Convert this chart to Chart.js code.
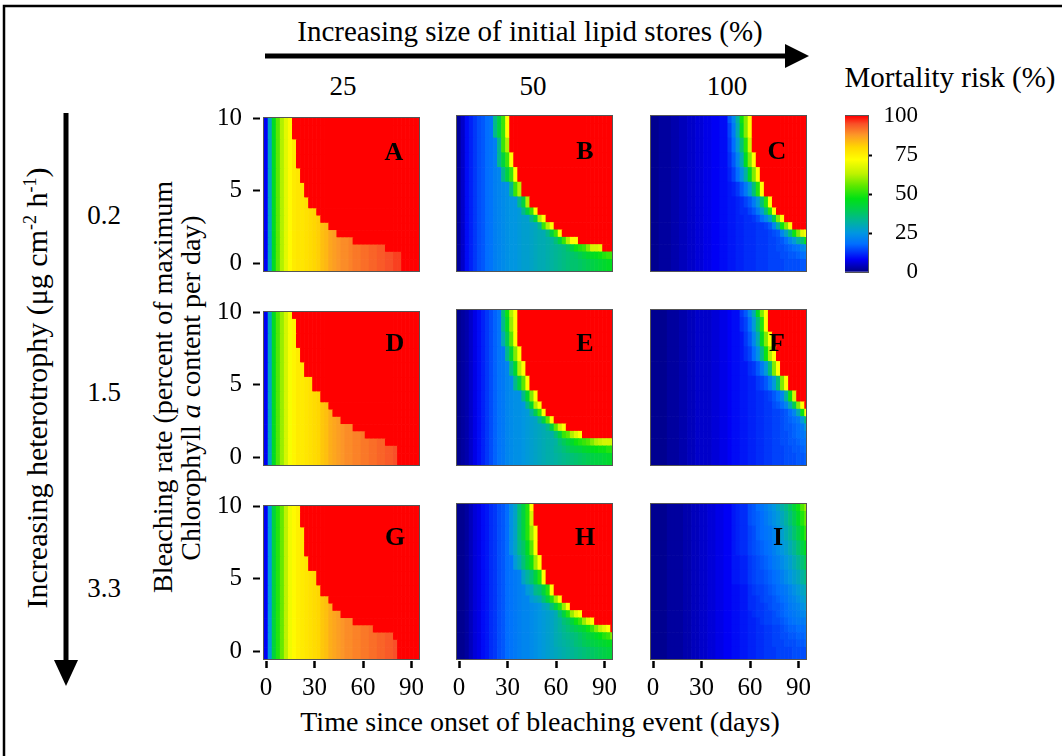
<!DOCTYPE html>
<html><head><meta charset="utf-8">
<script src="https://cdn.jsdelivr.net/npm/chart.js@4.4.1/dist/chart.umd.min.js"></script>
<style>
html,body{margin:0;padding:0;background:#fff;}
#wrap{position:relative;width:1062px;height:756px;overflow:hidden;font-family:"Liberation Serif","Times New Roman",serif;color:#000;background:#fff;}
canvas{position:absolute;}
.t{position:absolute;white-space:nowrap;line-height:1;transform:translate(-50%,-50%);}
.v{position:absolute;white-space:nowrap;line-height:1;transform:translate(-50%,-50%) rotate(-90deg);}
.lt{position:absolute;font-weight:bold;font-size:26px;line-height:1;transform:translate(-50%,-50%);}
sup{font-size:60%;vertical-align:0.6em;line-height:0;}
svg{position:absolute;left:0;top:0;}
</style></head><body><div id="wrap">
<svg width="1062" height="756">
  <path d="M4,760 L4,6 L1066,6" fill="none" stroke="#000" stroke-width="2.5"/>
  <line x1="265" y1="56" x2="788" y2="56" stroke="#000" stroke-width="5"/>
  <polygon points="785,44 809,56 785,68" fill="#000"/>
  <line x1="66" y1="113" x2="66" y2="664" stroke="#000" stroke-width="5"/>
  <polygon points="54,660 66,686 78,660" fill="#000"/>
</svg>
<div class="t" style="left:530px;top:31px;font-size:29px;">Increasing size of initial lipid stores (%)</div>
<div class="t" id="lip0" style="left:343px;top:86px;font-size:27px;"></div>
<div class="t" id="lip1" style="left:533px;top:86px;font-size:27px;"></div>
<div class="t" id="lip2" style="left:727px;top:86px;font-size:27px;"></div>
<div class="t" style="left:950px;top:77px;font-size:29px;">Mortality risk (%)</div>
<div class="v" style="left:37px;top:388px;font-size:30px;">Increasing heterotrophy (μg cm<sup>-2</sup> h<sup>-1</sup>)</div>
<div class="t" id="het0" style="left:104px;top:215px;font-size:27px;"></div>
<div class="t" id="het1" style="left:104px;top:392px;font-size:27px;"></div>
<div class="t" id="het2" style="left:104px;top:588px;font-size:27px;"></div>
<div class="v" style="left:163px;top:387px;font-size:28px;">Bleaching rate (percent of maximum</div>
<div class="v" style="left:191px;top:388px;font-size:28px;">Chlorophyll <i>a</i> content per day)</div>
<div class="t" style="left:540px;top:722px;font-size:28px;">Time since onset of bleaching event (days)</div>
</div>
<script>
// ---------- data ----------
const timeDays = [0,2.5,5,7.5,10,12.5,15,17.5,20,22.5,25,27.5,30,32.5,35,37.5,40,42.5,45,47.5,50,52.5,55,57.5,60,62.5,65,67.5,70,72.5,75,77.5,80,82.5,85,87.5,90,92.5,95];
// bleaching-rate rows: 0,0.5,1,1.5,2,2.5,3,3.5,4,5,6,7,8,9,10 (cell edges)
const rateEdges = [-0.6,0.25,0.75,1.25,1.75,2.25,2.75,3.25,3.75,4.5,5.5,6.5,7.5,8.5,9.5,10.5];
const timeTicks = [0,30,60,90];
const rateTicks = [0,5,10];
const riskTicks = [0,25,50,75,100];
const riskRange = [0,100];
const lipidLevels = ['25','50','100'];
const heteroLevels = ['0.2','1.5','3.3'];
const panelLetters = ['A','B','C','D','E','F','G','H','I'];

// mortality risk (%) per cell: rows bottom (rate 0) to top (rate 10), columns = timeDays
const riskA = [
 [8,28,45,55,62,68,73,76,77,77,78,79,80,81,83,84,86,87,88,89,89,90,91,91,92,92,93,93,94,94,95,95,96,96,100,100,100,100,100],
 [8,28,45,55,62,68,73,76,77,77,78,79,80,81,83,84,86,87,88,89,89,90,91,91,92,92,93,93,94,94,95,95,96,96,100,100,100,100,100],
 [8,28,45,55,62,68,73,76,77,77,78,79,80,81,83,84,86,87,88,89,89,90,91,91,92,92,93,93,94,94,100,100,100,100,100,100,100,100,100],
 [8,28,45,55,62,68,73,76,77,77,78,79,80,81,83,84,86,87,88,89,89,90,100,100,100,100,100,100,100,100,100,100,100,100,100,100,100,100,100],
 [8,28,45,55,62,68,73,76,77,77,78,79,80,81,83,84,86,87,100,100,100,100,100,100,100,100,100,100,100,100,100,100,100,100,100,100,100,100,100],
 [8,28,45,55,62,68,73,76,77,77,78,79,80,81,83,84,100,100,100,100,100,100,100,100,100,100,100,100,100,100,100,100,100,100,100,100,100,100,100],
 [8,28,45,55,62,68,73,76,77,77,78,79,80,81,100,100,100,100,100,100,100,100,100,100,100,100,100,100,100,100,100,100,100,100,100,100,100,100,100],
 [8,28,45,55,62,68,73,76,77,77,78,79,80,100,100,100,100,100,100,100,100,100,100,100,100,100,100,100,100,100,100,100,100,100,100,100,100,100,100],
 [8,28,45,55,62,68,73,76,77,77,78,100,100,100,100,100,100,100,100,100,100,100,100,100,100,100,100,100,100,100,100,100,100,100,100,100,100,100,100],
 [8,28,45,55,62,68,73,76,77,77,100,100,100,100,100,100,100,100,100,100,100,100,100,100,100,100,100,100,100,100,100,100,100,100,100,100,100,100,100],
 [8,28,45,55,62,68,73,76,77,100,100,100,100,100,100,100,100,100,100,100,100,100,100,100,100,100,100,100,100,100,100,100,100,100,100,100,100,100,100],
 [8,28,45,55,62,68,73,76,100,100,100,100,100,100,100,100,100,100,100,100,100,100,100,100,100,100,100,100,100,100,100,100,100,100,100,100,100,100,100],
 [8,28,45,55,62,68,73,76,100,100,100,100,100,100,100,100,100,100,100,100,100,100,100,100,100,100,100,100,100,100,100,100,100,100,100,100,100,100,100],
 [8,28,45,55,62,68,73,100,100,100,100,100,100,100,100,100,100,100,100,100,100,100,100,100,100,100,100,100,100,100,100,100,100,100,100,100,100,100,100],
 [8,28,45,55,62,68,73,100,100,100,100,100,100,100,100,100,100,100,100,100,100,100,100,100,100,100,100,100,100,100,100,100,100,100,100,100,100,100,100]
];
const riskB = [
 [2,5,9,11,13,15,16,18,19,21,22,23,24,25,25,26,27,27,28,29,30,30,31,32,33,34,35,36,37,37,38,39,40,41,42,43,44,45,46],
 [2,5,9,11,13,15,16,18,19,21,22,23,24,25,25,26,27,27,28,29,30,30,31,32,33,34,35,36,37,38,40,42,44,45,46,48,50,52,52],
 [2,5,9,11,13,15,16,18,19,21,22,23,24,25,25,26,27,27,28,29,30,30,31,32,33,34,35,38,42,48,50,52,58,66,66,68,100,100,100],
 [2,5,9,11,13,15,16,18,19,21,22,23,24,25,25,26,27,27,28,29,30,30,31,32,36,42,52,62,72,72,100,100,100,100,100,100,100,100,100],
 [2,5,9,11,13,15,16,18,19,21,22,23,24,25,25,26,27,27,28,29,30,30,34,42,52,72,100,100,100,100,100,100,100,100,100,100,100,100,100],
 [2,5,9,11,13,15,16,18,19,21,22,23,24,25,25,26,27,27,28,29,34,52,62,72,100,100,100,100,100,100,100,100,100,100,100,100,100,100,100],
 [2,5,9,11,13,15,16,18,19,21,22,23,24,25,25,26,27,27,34,42,62,72,100,100,100,100,100,100,100,100,100,100,100,100,100,100,100,100,100],
 [2,5,9,11,13,15,16,18,19,21,22,23,24,25,25,26,34,42,52,72,100,100,100,100,100,100,100,100,100,100,100,100,100,100,100,100,100,100,100],
 [2,5,9,11,13,15,16,18,19,21,22,23,24,25,25,34,42,62,100,100,100,100,100,100,100,100,100,100,100,100,100,100,100,100,100,100,100,100,100],
 [2,5,9,11,13,15,16,18,19,21,22,23,24,34,52,62,100,100,100,100,100,100,100,100,100,100,100,100,100,100,100,100,100,100,100,100,100,100,100],
 [2,5,9,11,13,15,16,18,19,21,22,34,42,52,72,100,100,100,100,100,100,100,100,100,100,100,100,100,100,100,100,100,100,100,100,100,100,100,100],
 [2,5,9,11,13,15,16,18,19,21,34,42,52,72,100,100,100,100,100,100,100,100,100,100,100,100,100,100,100,100,100,100,100,100,100,100,100,100,100],
 [2,5,9,11,13,15,16,18,19,21,34,52,62,100,100,100,100,100,100,100,100,100,100,100,100,100,100,100,100,100,100,100,100,100,100,100,100,100,100],
 [2,5,9,11,13,15,16,18,19,34,42,52,72,100,100,100,100,100,100,100,100,100,100,100,100,100,100,100,100,100,100,100,100,100,100,100,100,100,100],
 [2,5,9,11,13,15,16,18,19,34,42,52,72,100,100,100,100,100,100,100,100,100,100,100,100,100,100,100,100,100,100,100,100,100,100,100,100,100,100]
];
const riskC = [
 [1,1,2,2,2,3,3,4,4,5,5,6,6,7,7,8,8,9,9,10,10,11,11,12,12,12,13,13,13,14,14,14,14,15,15,15,15,16,16],
 [1,1,2,2,2,3,3,4,4,5,5,6,6,7,7,8,8,9,9,10,10,11,11,12,12,12,13,13,13,14,14,14,15,15,16,16,17,18,19],
 [1,1,2,2,2,3,3,4,4,5,5,6,6,7,7,8,8,9,9,10,10,11,11,12,12,12,13,13,13,14,14,15,15,16,17,18,19,22,24],
 [1,1,2,2,2,3,3,4,4,5,5,6,6,7,7,8,8,9,9,10,10,11,11,12,12,12,13,13,13,14,14,15,16,18,22,26,32,36,48],
 [1,1,2,2,2,3,3,4,4,5,5,6,6,7,7,8,8,9,9,10,10,11,11,12,12,12,13,13,13,14,15,16,22,28,36,48,58,68,72],
 [1,1,2,2,2,3,3,4,4,5,5,6,6,7,7,8,8,9,9,10,10,11,11,12,12,12,13,13,14,16,22,32,48,58,72,100,100,100,100],
 [1,1,2,2,2,3,3,4,4,5,5,6,6,7,7,8,8,9,9,10,10,11,11,12,12,13,15,18,22,28,40,58,72,100,100,100,100,100,100],
 [1,1,2,2,2,3,3,4,4,5,5,6,6,7,7,8,8,9,9,10,10,11,12,12,14,16,20,26,36,50,72,100,100,100,100,100,100,100,100],
 [1,1,2,2,2,3,3,4,4,5,5,6,6,7,7,8,8,9,9,10,10,11,12,14,16,20,26,36,50,72,100,100,100,100,100,100,100,100,100],
 [1,1,2,2,2,3,3,4,4,5,5,6,6,7,7,8,8,9,9,10,11,13,16,20,26,36,50,72,100,100,100,100,100,100,100,100,100,100,100],
 [1,1,2,2,2,3,3,4,4,5,5,6,6,7,7,8,8,9,9,11,14,18,24,32,45,58,72,100,100,100,100,100,100,100,100,100,100,100,100],
 [1,1,2,2,2,3,3,4,4,5,5,6,6,7,7,8,8,9,9,12,16,22,30,45,58,72,100,100,100,100,100,100,100,100,100,100,100,100,100],
 [1,1,2,2,2,3,3,4,4,5,5,6,6,7,7,8,8,9,9,13,18,26,36,50,66,100,100,100,100,100,100,100,100,100,100,100,100,100,100],
 [1,1,2,2,2,3,3,4,4,5,5,6,6,7,7,8,8,9,9,14,20,30,45,58,72,100,100,100,100,100,100,100,100,100,100,100,100,100,100],
 [1,1,2,2,2,3,3,4,4,5,5,6,6,7,7,8,8,9,9,16,22,32,48,58,72,100,100,100,100,100,100,100,100,100,100,100,100,100,100]
];
const riskD = [
 [8,28,45,54,60,66,71,74,76,76,77,78,79,80,82,83,85,86,87,88,89,89,90,90,91,91,92,92,93,93,94,94,95,100,100,100,100,100,100],
 [8,28,45,54,60,66,71,74,76,76,77,78,79,80,82,83,85,86,87,88,89,89,90,90,91,91,92,92,93,93,94,94,95,100,100,100,100,100,100],
 [8,28,45,54,60,66,71,74,76,76,77,78,79,80,82,83,85,86,87,88,89,89,90,90,91,91,92,92,93,93,100,100,100,100,100,100,100,100,100],
 [8,28,45,54,60,66,71,74,76,76,77,78,79,80,82,83,85,86,87,88,89,89,90,90,91,100,100,100,100,100,100,100,100,100,100,100,100,100,100],
 [8,28,45,54,60,66,71,74,76,76,77,78,79,80,82,83,85,86,87,88,89,89,100,100,100,100,100,100,100,100,100,100,100,100,100,100,100,100,100],
 [8,28,45,54,60,66,71,74,76,76,77,78,79,80,82,83,85,86,87,100,100,100,100,100,100,100,100,100,100,100,100,100,100,100,100,100,100,100,100],
 [8,28,45,54,60,66,71,74,76,76,77,78,79,80,82,83,85,100,100,100,100,100,100,100,100,100,100,100,100,100,100,100,100,100,100,100,100,100,100],
 [8,28,45,54,60,66,71,74,76,76,77,78,79,80,82,83,100,100,100,100,100,100,100,100,100,100,100,100,100,100,100,100,100,100,100,100,100,100,100],
 [8,28,45,54,60,66,71,74,76,76,77,78,79,80,100,100,100,100,100,100,100,100,100,100,100,100,100,100,100,100,100,100,100,100,100,100,100,100,100],
 [8,28,45,54,60,66,71,74,76,76,77,78,100,100,100,100,100,100,100,100,100,100,100,100,100,100,100,100,100,100,100,100,100,100,100,100,100,100,100],
 [8,28,45,54,60,66,71,74,76,76,100,100,100,100,100,100,100,100,100,100,100,100,100,100,100,100,100,100,100,100,100,100,100,100,100,100,100,100,100],
 [8,28,45,54,60,66,71,74,76,100,100,100,100,100,100,100,100,100,100,100,100,100,100,100,100,100,100,100,100,100,100,100,100,100,100,100,100,100,100],
 [8,28,45,54,60,66,71,74,100,100,100,100,100,100,100,100,100,100,100,100,100,100,100,100,100,100,100,100,100,100,100,100,100,100,100,100,100,100,100],
 [8,28,45,54,60,66,71,74,100,100,100,100,100,100,100,100,100,100,100,100,100,100,100,100,100,100,100,100,100,100,100,100,100,100,100,100,100,100,100],
 [8,28,45,54,60,66,71,100,100,100,100,100,100,100,100,100,100,100,100,100,100,100,100,100,100,100,100,100,100,100,100,100,100,100,100,100,100,100,100]
];
const riskE = [
 [1,2,3,5,7,9,11,13,15,17,19,20,22,23,24,24,25,26,27,28,29,30,31,31,32,33,34,35,36,37,38,39,40,41,42,42,43,44,45],
 [1,2,3,5,7,9,11,13,15,17,19,20,22,23,24,24,25,26,27,28,29,30,31,31,33,34,36,38,40,41,42,44,45,46,47,48,48,50,50],
 [1,2,3,5,7,9,11,13,15,17,19,20,22,23,24,24,25,26,27,28,29,30,31,31,32,36,39,42,44,48,50,52,54,58,62,64,66,66,66],
 [1,2,3,5,7,9,11,13,15,17,19,20,22,23,24,24,25,26,27,28,29,30,31,31,36,42,52,55,62,68,72,100,100,100,100,100,100,100,100],
 [1,2,3,5,7,9,11,13,15,17,19,20,22,23,24,24,25,26,27,28,29,30,34,42,55,66,72,100,100,100,100,100,100,100,100,100,100,100,100],
 [1,2,3,5,7,9,11,13,15,17,19,20,22,23,24,24,25,26,27,28,34,42,55,72,100,100,100,100,100,100,100,100,100,100,100,100,100,100,100],
 [1,2,3,5,7,9,11,13,15,17,19,20,22,23,24,24,25,26,32,40,52,72,100,100,100,100,100,100,100,100,100,100,100,100,100,100,100,100,100],
 [1,2,3,5,7,9,11,13,15,17,19,20,22,23,24,24,25,34,44,62,72,100,100,100,100,100,100,100,100,100,100,100,100,100,100,100,100,100,100],
 [1,2,3,5,7,9,11,13,15,17,19,20,22,23,24,24,34,44,58,72,100,100,100,100,100,100,100,100,100,100,100,100,100,100,100,100,100,100,100],
 [1,2,3,5,7,9,11,13,15,17,19,20,22,23,34,42,55,72,100,100,100,100,100,100,100,100,100,100,100,100,100,100,100,100,100,100,100,100,100],
 [1,2,3,5,7,9,11,13,15,17,19,20,22,34,44,62,72,100,100,100,100,100,100,100,100,100,100,100,100,100,100,100,100,100,100,100,100,100,100],
 [1,2,3,5,7,9,11,13,15,17,19,20,34,44,58,72,100,100,100,100,100,100,100,100,100,100,100,100,100,100,100,100,100,100,100,100,100,100,100],
 [1,2,3,5,7,9,11,13,15,17,19,30,40,55,72,100,100,100,100,100,100,100,100,100,100,100,100,100,100,100,100,100,100,100,100,100,100,100,100],
 [1,2,3,5,7,9,11,13,15,17,19,34,45,60,72,100,100,100,100,100,100,100,100,100,100,100,100,100,100,100,100,100,100,100,100,100,100,100,100],
 [1,2,3,5,7,9,11,13,15,17,19,36,48,62,72,100,100,100,100,100,100,100,100,100,100,100,100,100,100,100,100,100,100,100,100,100,100,100,100]
];
const riskF = [
 [1,1,1,1,2,2,2,3,3,4,4,5,5,5,5,6,6,7,7,8,9,9,10,10,11,11,12,12,13,13,14,14,14,15,15,15,16,16,17],
 [1,1,1,1,2,2,2,3,3,4,4,5,5,5,5,6,6,7,7,8,9,9,10,10,11,11,12,12,13,13,14,14,14,15,15,16,16,17,18],
 [1,1,1,1,2,2,2,3,3,4,4,5,5,5,5,6,6,7,7,8,9,9,10,10,11,11,12,12,13,13,14,14,15,15,16,16,17,18,19],
 [1,1,1,1,2,2,2,3,3,4,4,5,5,5,5,6,6,7,7,8,9,9,10,10,11,11,12,12,13,13,14,14,15,15,16,17,18,19,21],
 [1,1,1,1,2,2,2,3,3,4,4,5,5,5,5,6,6,7,7,8,9,9,10,10,11,11,12,12,13,13,14,14,15,16,16,17,18,20,26],
 [1,1,1,1,2,2,2,3,3,4,4,5,5,5,5,6,6,7,7,8,9,9,10,10,11,11,12,12,13,13,14,14,15,16,17,18,20,26,36],
 [1,1,1,1,2,2,2,3,3,4,4,5,5,5,5,6,6,7,7,8,9,9,10,10,11,11,12,12,13,13,14,14,15,16,18,22,30,48,72],
 [1,1,1,1,2,2,2,3,3,4,4,5,5,5,5,6,6,7,7,8,9,9,10,10,11,11,12,12,13,13,15,16,18,22,30,40,58,72,100],
 [1,1,1,1,2,2,2,3,3,4,4,5,5,5,5,6,6,7,7,8,9,9,10,10,11,11,12,12,13,14,16,18,22,32,48,66,100,100,100],
 [1,1,1,1,2,2,2,3,3,4,4,5,5,5,5,6,6,7,7,8,9,9,10,10,11,11,13,14,16,20,26,36,58,72,100,100,100,100,100],
 [1,1,1,1,2,2,2,3,3,4,4,5,5,5,5,6,6,7,7,8,9,9,10,10,12,13,16,20,26,36,58,72,100,100,100,100,100,100,100],
 [1,1,1,1,2,2,2,3,3,4,4,5,5,5,5,6,6,7,7,8,9,9,10,12,14,18,24,34,48,62,72,100,100,100,100,100,100,100,100],
 [1,1,1,1,2,2,2,3,3,4,4,5,5,5,5,6,6,7,7,8,9,9,10,13,16,22,30,45,58,72,100,100,100,100,100,100,100,100,100],
 [1,1,1,1,2,2,2,3,3,4,4,5,5,5,5,6,6,7,7,8,9,9,12,14,18,26,36,50,72,100,100,100,100,100,100,100,100,100,100],
 [1,1,1,1,2,2,2,3,3,4,4,5,5,5,5,6,6,7,7,8,9,9,13,16,22,30,45,58,72,100,100,100,100,100,100,100,100,100,100]
];
const riskG = [
 [8,25,42,50,56,63,70,73,75,76,77,78,79,80,82,83,85,86,87,88,89,89,90,90,91,91,92,92,93,93,94,94,95,100,100,100,100,100,100],
 [8,25,42,50,56,63,70,73,75,76,77,78,79,80,82,83,85,86,87,88,89,89,90,90,91,91,92,92,93,93,94,94,95,100,100,100,100,100,100],
 [8,25,42,50,56,63,70,73,75,76,77,78,79,80,82,83,85,86,87,88,89,89,90,90,91,91,92,92,93,93,94,94,100,100,100,100,100,100,100],
 [8,25,42,50,56,63,70,73,75,76,77,78,79,80,82,83,85,86,87,88,89,89,90,90,91,91,92,100,100,100,100,100,100,100,100,100,100,100,100],
 [8,25,42,50,56,63,70,73,75,76,77,78,79,80,82,83,85,86,87,88,89,89,100,100,100,100,100,100,100,100,100,100,100,100,100,100,100,100,100],
 [8,25,42,50,56,63,70,73,75,76,77,78,79,80,82,83,85,86,87,100,100,100,100,100,100,100,100,100,100,100,100,100,100,100,100,100,100,100,100],
 [8,25,42,50,56,63,70,73,75,76,77,78,79,80,82,83,85,100,100,100,100,100,100,100,100,100,100,100,100,100,100,100,100,100,100,100,100,100,100],
 [8,25,42,50,56,63,70,73,75,76,77,78,79,80,82,83,100,100,100,100,100,100,100,100,100,100,100,100,100,100,100,100,100,100,100,100,100,100,100],
 [8,25,42,50,56,63,70,73,75,76,77,78,79,80,100,100,100,100,100,100,100,100,100,100,100,100,100,100,100,100,100,100,100,100,100,100,100,100,100],
 [8,25,42,50,56,63,70,73,75,76,77,78,79,100,100,100,100,100,100,100,100,100,100,100,100,100,100,100,100,100,100,100,100,100,100,100,100,100,100],
 [8,25,42,50,56,63,70,73,75,76,77,100,100,100,100,100,100,100,100,100,100,100,100,100,100,100,100,100,100,100,100,100,100,100,100,100,100,100,100],
 [8,25,42,50,56,63,70,73,75,76,100,100,100,100,100,100,100,100,100,100,100,100,100,100,100,100,100,100,100,100,100,100,100,100,100,100,100,100,100],
 [8,25,42,50,56,63,70,73,75,76,100,100,100,100,100,100,100,100,100,100,100,100,100,100,100,100,100,100,100,100,100,100,100,100,100,100,100,100,100],
 [8,25,42,50,56,63,70,73,75,100,100,100,100,100,100,100,100,100,100,100,100,100,100,100,100,100,100,100,100,100,100,100,100,100,100,100,100,100,100],
 [8,25,42,50,56,63,70,73,75,100,100,100,100,100,100,100,100,100,100,100,100,100,100,100,100,100,100,100,100,100,100,100,100,100,100,100,100,100,100]
];
const riskH = [
 [1,1,2,4,6,7,9,10,12,13,15,16,18,19,20,21,22,22,23,24,25,26,27,28,29,30,31,32,33,34,35,36,37,38,39,40,41,42,43],
 [1,1,2,4,6,7,9,10,12,13,15,16,18,19,20,21,22,22,23,24,25,26,27,28,30,31,32,33,34,36,37,39,40,41,42,43,44,45,46],
 [1,1,2,4,6,7,9,10,12,13,15,16,18,19,20,21,22,22,23,24,25,26,27,28,30,31,33,34,35,36,38,40,42,43,45,47,50,52,58],
 [1,1,2,4,6,7,9,10,12,13,15,16,18,19,20,21,22,22,23,24,25,26,27,28,30,32,34,36,38,40,42,44,48,52,58,64,68,72,100],
 [1,1,2,4,6,7,9,10,12,13,15,16,18,19,20,21,22,22,23,24,25,26,27,28,30,32,36,38,42,48,52,60,68,72,100,100,100,100,100],
 [1,1,2,4,6,7,9,10,12,13,15,16,18,19,20,21,22,22,23,24,25,26,27,28,30,36,42,50,60,68,72,100,100,100,100,100,100,100,100],
 [1,1,2,4,6,7,9,10,12,13,15,16,18,19,20,21,22,22,23,24,25,28,30,36,42,50,60,72,100,100,100,100,100,100,100,100,100,100,100],
 [1,1,2,4,6,7,9,10,12,13,15,16,18,19,20,21,22,22,26,28,30,36,42,50,60,72,100,100,100,100,100,100,100,100,100,100,100,100,100],
 [1,1,2,4,6,7,9,10,12,13,15,16,18,19,20,21,22,26,28,34,36,42,50,72,100,100,100,100,100,100,100,100,100,100,100,100,100,100,100],
 [1,1,2,4,6,7,9,10,12,13,15,16,18,19,20,21,28,32,36,42,50,72,100,100,100,100,100,100,100,100,100,100,100,100,100,100,100,100,100],
 [1,1,2,4,6,7,9,10,12,13,15,16,18,19,26,30,36,42,48,60,72,100,100,100,100,100,100,100,100,100,100,100,100,100,100,100,100,100,100],
 [1,1,2,4,6,7,9,10,12,13,15,16,18,24,28,34,38,45,55,72,100,100,100,100,100,100,100,100,100,100,100,100,100,100,100,100,100,100,100],
 [1,1,2,4,6,7,9,10,12,13,15,16,18,24,28,36,42,50,60,72,100,100,100,100,100,100,100,100,100,100,100,100,100,100,100,100,100,100,100],
 [1,1,2,4,6,7,9,10,12,13,15,16,18,24,28,36,42,50,66,100,100,100,100,100,100,100,100,100,100,100,100,100,100,100,100,100,100,100,100],
 [1,1,2,4,6,7,9,10,12,13,15,16,18,24,28,36,42,50,72,100,100,100,100,100,100,100,100,100,100,100,100,100,100,100,100,100,100,100,100]
];
const riskI = [
 [1,1,1,1,2,2,2,2,3,3,4,4,5,5,6,6,7,7,8,8,9,9,10,10,11,11,12,12,13,13,13,14,14,14,14,15,15,15,15],
 [1,1,1,1,2,2,2,2,3,3,4,4,5,5,6,6,7,7,8,8,9,9,10,10,11,11,12,12,13,13,14,14,14,15,15,15,16,16,17],
 [1,1,1,1,2,2,2,2,3,3,4,4,5,5,6,6,7,7,8,8,9,9,10,10,11,11,12,12,13,13,14,14,15,15,16,16,17,17,18],
 [1,1,1,1,2,2,2,2,3,3,4,4,5,5,6,6,7,7,8,8,9,9,10,10,11,11,12,12,13,13,14,14,15,16,17,17,18,18,19],
 [1,1,1,1,2,2,2,2,3,3,4,4,5,5,6,6,7,7,8,8,9,9,10,10,11,11,12,13,14,14,15,15,16,17,18,19,20,20,21],
 [1,1,1,1,2,2,2,2,3,3,4,4,5,5,6,6,7,7,8,8,9,9,10,10,11,12,13,13,14,14,15,16,17,18,19,20,21,22,23],
 [1,1,1,1,2,2,2,2,3,3,4,4,5,5,6,6,7,7,8,8,9,9,10,10,12,12,13,13,14,15,16,16,17,18,20,21,22,24,26],
 [1,1,1,1,2,2,2,2,3,3,4,4,5,5,6,6,7,7,8,8,9,9,10,10,12,12,13,14,15,15,16,17,18,19,21,22,24,26,28],
 [1,1,1,1,2,2,2,2,3,3,4,4,5,5,6,6,7,7,8,8,9,9,10,10,12,13,14,14,15,16,17,18,19,20,22,24,26,28,30],
 [1,1,1,1,2,2,2,2,3,3,4,4,5,5,6,6,7,7,8,8,10,10,11,11,13,14,15,15,16,17,18,19,21,23,25,27,29,32,35],
 [1,1,1,1,2,2,2,2,3,3,4,4,5,5,6,6,7,7,8,8,10,10,11,11,13,14,15,16,17,18,20,21,23,25,27,30,33,36,40],
 [1,1,1,1,2,2,2,2,3,3,4,4,5,5,6,6,7,7,8,8,10,11,12,12,14,15,16,17,18,19,21,23,25,27,30,33,37,41,46],
 [1,1,1,1,2,2,2,2,3,3,4,4,5,5,6,6,7,7,8,8,10,11,12,12,14,15,17,18,19,20,22,24,27,30,33,37,41,46,52],
 [1,1,1,1,2,2,2,2,3,3,4,4,5,5,6,6,7,7,8,8,10,11,12,12,15,16,17,18,20,22,24,26,29,32,36,40,45,50,56],
 [1,1,1,1,2,2,2,2,3,3,4,4,5,5,6,6,7,7,8,8,10,11,12,12,15,16,18,19,21,23,25,28,31,34,38,43,48,54,60]
];

// ---------- style / layout ----------
const riskColorStops = [
 [0,[0,0,130]],[8,[0,0,245]],[18,[0,110,255]],[25,[0,150,225]],[32,[0,178,160]],
 [40,[0,205,80]],[47,[0,225,20]],[55,[90,232,0]],[63,[190,242,0]],[72,[255,255,0]],
 [80,[255,215,0]],[88,[252,150,40]],[95,[248,80,40]],[100,[255,0,0]]
];
function riskColor(v){
  const s = riskColorStops;
  if (v <= s[0][0]) return 'rgb(' + s[0][1].join(',') + ')';
  for (let i = 1; i < s.length; i++){
    if (v <= s[i][0]){
      const f = (v - s[i-1][0]) / (s[i][0] - s[i-1][0]);
      const c = s[i-1][1].map((a, k) => Math.round(a + (s[i][1][k] - a) * f));
      return 'rgb(' + c.join(',') + ')';
    }
  }
  return 'rgb(' + s[s.length-1][1].join(',') + ')';
}

const PLOT_W = 155, PLOT_H = 155;
const colLeft = [264, 457, 651];
const rowTop = [116, 310, 504];
const X_MIN = -1.25, X_MAX = 94.6, Y_MIN = -0.55, Y_MAX = 10;
const letterPos = [[394,152],[585,151],[777,151],[395,343],[585,343],[777,343],[395,537],[585,537],[778,537]];

Chart.defaults.font.family = '"Liberation Serif","Times New Roman",serif';
Chart.defaults.color = '#000';

const framePlugin = {
  id: 'frame',
  afterDatasetsDraw(chart){
    const {ctx, chartArea: a} = chart;
    ctx.save();
    ctx.strokeStyle = '#555';
    ctx.lineWidth = 1;
    ctx.strokeRect(Math.round(a.left) - 0.5, Math.round(a.top) - 0.5, Math.round(a.right - a.left) + 1, Math.round(a.bottom - a.top) + 1);
    ctx.restore();
  }
};

const wrap = document.getElementById('wrap');
lipidLevels.forEach((s, i) => document.getElementById('lip' + i).textContent = s);
heteroLevels.forEach((s, i) => document.getElementById('het' + i).textContent = s);

const grids = [riskA, riskB, riskC, riskD, riskE, riskF, riskG, riskH, riskI];

grids.forEach((grid, idx) => {
  const col = idx % 3, row = Math.floor(idx / 3);
  const L = 70, T = 24, R = 16, B = 50;
  const cv = document.createElement('canvas');
  cv.width = L + PLOT_W + R; cv.height = T + PLOT_H + B;
  cv.style.left = (colLeft[col] - L) + 'px';
  cv.style.top = (rowTop[row] - T) + 'px';
  wrap.appendChild(cv);
  const showY = col === 0, showX = row === 2;
  const datasets = grid.map((vals, ri) => ({
    data: timeDays.map(t => ({x: t, y: [rateEdges[ri], rateEdges[ri + 1]]})),
    backgroundColor: vals.map(riskColor),
    borderWidth: 0, grouped: false, barPercentage: 1, categoryPercentage: 1, clip: 0
  }));
  new Chart(cv, {
    type: 'bar',
    data: {datasets},
    options: {
      responsive: false, animation: false, events: [],
      layout: {padding: {left: 0, top: T, right: R, bottom: 0}, autoPadding: false},
      plugins: {legend: {display: false}, tooltip: {enabled: false}},
      scales: {
        x: {
          type: 'linear', min: X_MIN, max: X_MAX, offset: false,
          afterBuildTicks: s => { s.ticks = timeTicks.map(v => ({value: v})); },
          afterFit: s => { s.height = B; },
          border: {display: false},
          grid: {display: showX, drawOnChartArea: false, offset: false, tickLength: 9, tickWidth: 2.5, tickColor: '#000', tickBorderDash: [0, 2, 7, 40]},
          ticks: {display: showX, padding: 5, font: {size: 25}, color: '#000', maxRotation: 0, autoSkip: false}
        },
        y: {
          type: 'linear', min: Y_MIN, max: Y_MAX,
          afterBuildTicks: s => { s.ticks = rateTicks.map(v => ({value: v})); },
          afterFit: s => { s.width = L; },
          border: {display: false},
          grid: {display: showY, drawOnChartArea: false, tickLength: 11, tickWidth: 2, tickColor: '#000', tickBorderDash: [7, 40]},
          ticks: {display: showY, padding: 11, font: {size: 25}, color: '#000'}
        }
      }
    },
    plugins: [framePlugin]
  });
  const d = document.createElement('div');
  d.className = 'lt';
  d.style.left = letterPos[idx][0] + 'px';
  d.style.top = letterPos[idx][1] + 'px';
  d.textContent = panelLetters[idx];
  wrap.appendChild(d);
});

// colour bar
(function(){
  const CB_L = 845, CB_T = 116, CB_W = 23, CB_H = 156;
  const T = 22, Bm = 22, AX = 50;
  const cv = document.createElement('canvas');
  cv.width = CB_W + AX; cv.height = T + CB_H + Bm;
  cv.style.left = CB_L + 'px'; cv.style.top = (CB_T - T) + 'px';
  wrap.appendChild(cv);
  new Chart(cv, {
    type: 'bar',
    data: {labels: [''], datasets: [{
      data: [riskRange],
      backgroundColor: c => {
        const ch = c.chart; const y = ch.scales.y;
        if (!ch.chartArea || !y) return '#888';
        const g = ch.ctx.createLinearGradient(0, y.getPixelForValue(riskRange[0]), 0, y.getPixelForValue(riskRange[1]));
        riskColorStops.forEach(s => g.addColorStop(s[0] / 100, 'rgb(' + s[1].join(',') + ')'));
        return g;
      },
      borderWidth: 0, barPercentage: 1, categoryPercentage: 1
    }]},
    options: {
      responsive: false, animation: false, events: [],
      layout: {padding: {left: 0, top: T, right: 0, bottom: Bm}, autoPadding: false},
      plugins: {legend: {display: false}, tooltip: {enabled: false}},
      scales: {
        x: {display: false},
        y: {
          position: 'right', min: riskRange[0], max: riskRange[1],
          afterBuildTicks: s => { s.ticks = riskTicks.map(v => ({value: v})); },
          afterFit: s => { s.width = AX; },
          border: {display: false},
          grid: {drawOnChartArea: false, tickLength: 4, tickWidth: 2,
                 tickColor: c => (c.tick && (c.tick.value === 0 || c.tick.value === 100)) ? 'rgba(0,0,0,0)' : '#000'},
          ticks: {crossAlign: 'far', padding: 5, font: {size: 23}, color: '#000'}
        }
      }
    },
    plugins: [framePlugin]
  });
})();
</script>
</body></html>
